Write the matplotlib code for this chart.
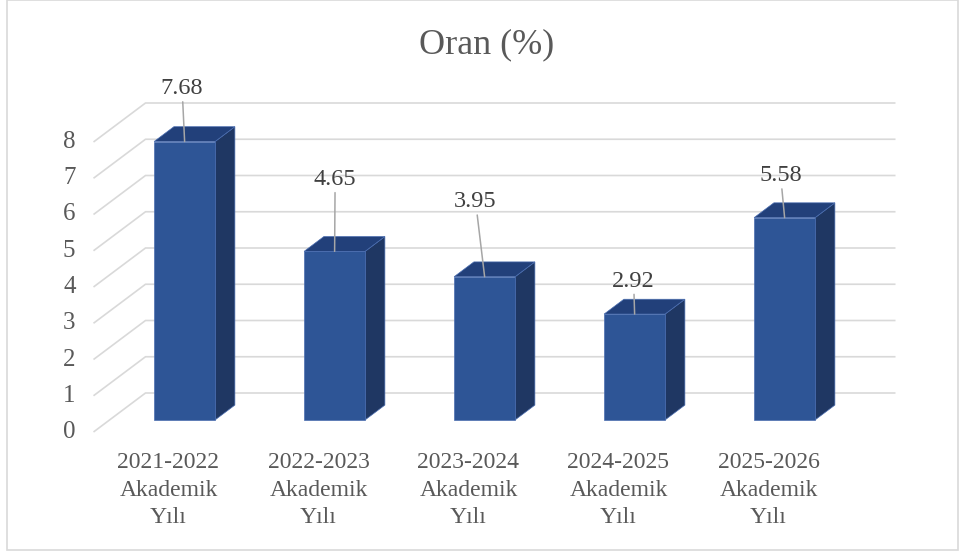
import matplotlib
matplotlib.use("Agg")
import matplotlib.pyplot as plt
from matplotlib.patches import Polygon, Rectangle

# data
categories = ["2021-2022\nAkademik\nYılı", "2022-2023\nAkademik\nYılı",
              "2023-2024\nAkademik\nYılı", "2024-2025\nAkademik\nYılı",
              "2025-2026\nAkademik\nYılı"]
values = [7.68, 4.65, 3.95, 2.92, 5.58]
yticks = [0, 1, 2, 3, 4, 5, 6, 7, 8]
title = "Oran (%)"

# label offsets in pixels (dragged labels in the original)
label_offsets = [(-2.5, 53), (0.5, 72), (-9, 75), (-1, 33), (-4, 42)]

plt.rcParams["font.family"] = ["Liberation Serif", "DejaVu Serif"]

W, H = 959, 553
fig = plt.figure(figsize=(W / 100, H / 100), dpi=100)
ax = fig.add_axes([0, 0, 1, 1])

# pixel mapping of the front plane
px_per_cat = 150.0
px_per_unit = 36.25
x0_px, y0_px = 168.5, 432.0
ax.set_xlim(-x0_px / px_per_cat, (W - x0_px) / px_per_cat)
ax.set_ylim((y0_px - H) / px_per_unit, y0_px / px_per_unit)
ax.axis("off")

# depth direction (one full floor depth)
DX = 52 / px_per_cat
DY = 39 / px_per_unit
d0, d1 = 0.31, 0.69
bw = 61 / px_per_cat


def P(x, v, d):
    return (x + d * DX, v + d * DY)


grid_c = "#d9d9d9"
left, right = -0.5, len(values) - 0.5
for t in yticks:
    a, b, c = P(left, t, 0), P(left, t, 1), P(right, t, 1)
    ax.plot([a[0], b[0], c[0]], [a[1], b[1], c[1]], color=grid_c, lw=1.2,
            zorder=1, solid_capstyle="butt")
    ax.annotate(str(t), xy=P(left, t, 0), xytext=(-18, 0),
                textcoords="offset pixels", ha="right", va="center",
                fontsize=18, color="#595959")

front_c, side_c, top_c, edge_c = "#2e5596", "#1f3763", "#22407a", "#4a6db0"
for i, v in enumerate(values):
    l, r = i - bw / 2, i + bw / 2
    front = [P(l, 0, d0), P(r, 0, d0), P(r, v, d0), P(l, v, d0)]
    side = [P(r, 0, d0), P(r, 0, d1), P(r, v, d1), P(r, v, d0)]
    top = [P(l, v, d0), P(r, v, d0), P(r, v, d1), P(l, v, d1)]
    for pts, col in ((side, side_c), (top, top_c), (front, front_c)):
        ax.add_patch(Polygon(pts, closed=True, facecolor=col, edgecolor=edge_c,
                             lw=0.5, zorder=3))
    ox, oy = label_offsets[i]
    ax.annotate(f"{v:.2f}", xy=P(i, v, d0), xytext=(ox, oy),
                textcoords="offset pixels", ha="center", va="center",
                fontsize=17.5, color="#404040", zorder=5,
                arrowprops=dict(arrowstyle="-", color="#a6a6a6", lw=1.1,
                                shrinkA=0, shrinkB=0))
    ax.text(i, (y0_px - 490) / px_per_unit, categories[i], ha="center",
            va="center", fontsize=17, color="#595959", linespacing=1.38)

fig.text(487 / W, 1 - 45 / H, title, ha="center", va="center", fontsize=26,
         color="#595959")

fig.patches.append(Rectangle((7 / W, 1 - 550 / H), (958 - 7) / W, 550 / H,
                             transform=fig.transFigure, fill=False,
                             edgecolor="#d9d9d9", lw=1.2))

fig.savefig("out.png", dpi=100, facecolor="white")
